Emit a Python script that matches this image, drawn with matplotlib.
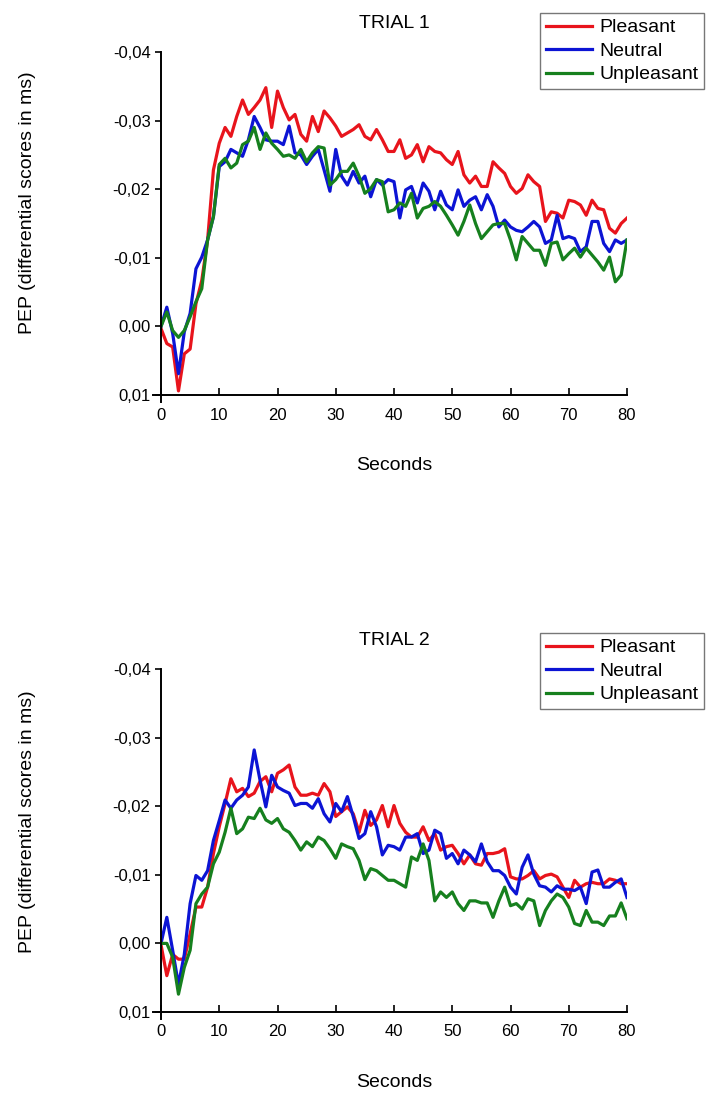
import numpy as np
import matplotlib
matplotlib.use("Agg")
import matplotlib.pyplot as plt

plt.rcParams['font.family'] = ['Liberation Sans', 'DejaVu Sans']

seconds = list(range(0, 81))

# trial 1 (PEP differential scores, negative = up)
t1_pleasant = [0.0003, 0.0025, 0.003, 0.0094, 0.004, 0.0033, -0.0033, -0.0067, -0.0126, -0.0228,
               -0.0267, -0.029, -0.0277, -0.0306, -0.033, -0.0309, -0.0319, -0.033, -0.0348, -0.029,
               -0.0343, -0.0319, -0.0301, -0.0309, -0.028, -0.027, -0.0306, -0.0284, -0.0314, -0.0304,
               -0.0292, -0.0277, -0.0282, -0.0287, -0.0294, -0.0277, -0.0272, -0.0287, -0.0272, -0.0255,
               -0.0255, -0.0272, -0.0245, -0.025, -0.0265, -0.024, -0.0262, -0.0255, -0.0253, -0.0243,
               -0.0236, -0.0255, -0.0221, -0.0209, -0.0219, -0.0204, -0.0204, -0.024, -0.0231, -0.0223,
               -0.0204, -0.0194, -0.0201, -0.0221, -0.0211, -0.0204, -0.0153, -0.0167, -0.0165, -0.0158,
               -0.0184, -0.0182, -0.0177, -0.0162, -0.0184, -0.0172, -0.017, -0.0143, -0.0136, -0.015,
               -0.0158]
t1_neutral = [0.0, -0.0028, 0.001, 0.0069, 0.0008, -0.0019, -0.0084, -0.0101, -0.0126, -0.016,
              -0.0233, -0.024, -0.0258, -0.0253, -0.0248, -0.0272, -0.0306, -0.029, -0.0272, -0.027,
              -0.027, -0.0265, -0.0292, -0.0253, -0.025, -0.0236, -0.0248, -0.0258, -0.0228, -0.0197,
              -0.0258, -0.0219, -0.0206, -0.0226, -0.0209, -0.0219, -0.0189, -0.0214, -0.0206, -0.0214,
              -0.0211, -0.0158, -0.0199, -0.0204, -0.018, -0.0209, -0.0197, -0.017, -0.0197, -0.0177,
              -0.017, -0.0199, -0.0175, -0.0184, -0.0189, -0.017, -0.0192, -0.0175, -0.0145, -0.0155,
              -0.0145, -0.014, -0.0138, -0.0145, -0.0153, -0.0145, -0.0121, -0.0126, -0.0162, -0.0128,
              -0.0131, -0.0128, -0.0109, -0.0116, -0.0153, -0.0153, -0.0121, -0.0109, -0.0126, -0.0121,
              -0.0126]
t1_unpleasant = [0.0, -0.0021, 0.0006, 0.0016, 0.0006, -0.0014, -0.0036, -0.0055, -0.0126, -0.016,
                 -0.0236, -0.0245, -0.0231, -0.0238, -0.0265, -0.027, -0.029, -0.0258, -0.0282, -0.0267,
                 -0.0258, -0.0248, -0.025, -0.0245, -0.0258, -0.024, -0.0253, -0.0262, -0.026, -0.0206,
                 -0.0214, -0.0226, -0.0226, -0.0238, -0.0219, -0.0194, -0.0201, -0.0214, -0.0211, -0.0167,
                 -0.017, -0.018, -0.0175, -0.0194, -0.0158, -0.0172, -0.0175, -0.0182, -0.0175, -0.0162,
                 -0.0148, -0.0133, -0.0153, -0.0177, -0.015, -0.0128, -0.0138, -0.0148, -0.015, -0.015,
                 -0.0126, -0.0097, -0.0131, -0.0121, -0.0111, -0.0111, -0.0089, -0.0121, -0.0123, -0.0097,
                 -0.0106, -0.0114, -0.0101, -0.0114, -0.0104, -0.0094, -0.0082, -0.0101, -0.0065, -0.0075,
                 -0.0126]

# trial 2
t2_pleasant = [0.0002, 0.0047, 0.0016, 0.0023, 0.0023, -0.0014, -0.0053, -0.0053, -0.0082, -0.0131,
               -0.017, -0.0204, -0.024, -0.0221, -0.0226, -0.0214, -0.0219, -0.0236, -0.0243, -0.0221,
               -0.0248, -0.0253, -0.026, -0.0228, -0.0216, -0.0216, -0.0219, -0.0216, -0.0233, -0.0221,
               -0.0185, -0.0192, -0.0199, -0.0189, -0.0162, -0.0194, -0.0172, -0.018, -0.0201, -0.017,
               -0.0201, -0.0175, -0.0162, -0.0155, -0.0155, -0.017, -0.015, -0.016, -0.0136, -0.0141,
               -0.0143, -0.0131, -0.0116, -0.0129, -0.0116, -0.0114, -0.0131, -0.0131, -0.0133, -0.0138,
               -0.0097, -0.0094, -0.0094, -0.0099, -0.0106, -0.0094, -0.0099, -0.0101, -0.0097, -0.0082,
               -0.0067, -0.0092, -0.0082, -0.0087, -0.0089, -0.0087, -0.0087, -0.0094, -0.0092, -0.0087,
               -0.0087]
t2_neutral = [0.0, -0.0038, 0.001, 0.006, 0.0016, -0.0058, -0.0099, -0.0092, -0.0106, -0.015,
              -0.0179, -0.0209, -0.0197, -0.0209, -0.0216, -0.0228, -0.0282, -0.0238, -0.0199, -0.0245,
              -0.0228, -0.0223, -0.0219, -0.0201, -0.0204, -0.0204, -0.0197, -0.0211, -0.0189, -0.0177,
              -0.0204, -0.0192, -0.0214, -0.0185, -0.0153, -0.016, -0.0192, -0.017, -0.0129, -0.0143,
              -0.0141, -0.0136, -0.0155, -0.0155, -0.016, -0.0131, -0.0136, -0.0165, -0.016, -0.0124,
              -0.0131, -0.0116, -0.0136, -0.0129, -0.0119, -0.0145, -0.0119, -0.0106, -0.0106, -0.0099,
              -0.0082, -0.0072, -0.0111, -0.0129, -0.0101, -0.0084, -0.0082, -0.0075, -0.0084, -0.0079,
              -0.0079, -0.0077, -0.0082, -0.0058, -0.0104, -0.0107, -0.0082, -0.0082, -0.0089, -0.0094,
              -0.0067]
t2_unpleasant = [0.0, 0.0, 0.002, 0.0074, 0.0035, 0.001, -0.0058, -0.0072, -0.0082, -0.0116,
                 -0.0133, -0.0162, -0.0197, -0.016, -0.0167, -0.0184, -0.0182, -0.0197, -0.018, -0.0175,
                 -0.0182, -0.0167, -0.0162, -0.015, -0.0136, -0.0148, -0.0141, -0.0155, -0.015, -0.0138,
                 -0.0124, -0.0145, -0.0141, -0.0138, -0.0121, -0.0093, -0.0109, -0.0106, -0.0099, -0.0092,
                 -0.0092, -0.0087, -0.0082, -0.0126, -0.0121, -0.0145, -0.0121, -0.0062, -0.0075, -0.0067,
                 -0.0075, -0.0058, -0.0048, -0.0062, -0.0062, -0.0059, -0.0059, -0.0038, -0.0062, -0.0082,
                 -0.0055, -0.0058, -0.005, -0.0065, -0.0062, -0.0026, -0.0048, -0.0062, -0.0072, -0.0067,
                 -0.0053, -0.0029, -0.0026, -0.0048, -0.0031, -0.0031, -0.0026, -0.004, -0.004, -0.0059,
                 -0.0036]

labels = ["Pleasant", "Neutral", "Unpleasant"]
colors = ["#e8141c", "#0c14d4", "#16801e"]
titles = ["TRIAL 1", "TRIAL 2"]
x_ticks = [0, 10, 20, 30, 40, 50, 60, 70, 80]
y_ticks = [-0.04, -0.03, -0.02, -0.01, 0.0, 0.01]
y_ticklabels = ["-0,04", "-0,03", "-0,02", "-0,01", "0,00", "0,01"]

trials = [[t1_pleasant, t1_neutral, t1_unpleasant],
          [t2_pleasant, t2_neutral, t2_unpleasant]]

W, H = 706, 1093
fig = plt.figure(figsize=(W / 100, H / 100), dpi=100)

# axes boxes in pixels: left, top, right, bottom
boxes = [(161, 52, 627, 395), (161, 669, 627, 1012)]
legend_tops = [13, 633]
ylabel_y = [0.56, 0.555]

for i, (box, series) in enumerate(zip(boxes, trials)):
    l, t, r, b = box
    ax = fig.add_axes([l / W, 1 - b / H, (r - l) / W, (b - t) / H])
    for s, lab, c in zip(series, labels, colors):
        ax.plot(seconds, s, color=c, lw=2.3, label=lab)
    ax.set_xlim(0, 80)
    ax.set_ylim(0.01, -0.04)
    ax.set_xticks(x_ticks)
    ax.set_yticks(y_ticks)
    ax.set_yticklabels(y_ticklabels)
    ax.spines['top'].set_visible(False)
    ax.spines['right'].set_visible(False)
    ax.spines['left'].set_linewidth(1.4)
    ax.spines['bottom'].set_linewidth(1.4)
    ax.spines['bottom'].set_bounds(-1.3, 80)
    ax.spines['left'].set_bounds(0.011, -0.04)
    ax.tick_params(axis='x', direction='in', length=5, width=1.2, labelsize=12, pad=9)
    ax.tick_params(axis='y', direction='out', length=4.5, width=1.2, labelsize=12, pad=3)
    ax.set_xlabel("Seconds", fontsize=14, labelpad=25)
    ax.set_ylabel("PEP (differential scores in ms)", fontsize=14)
    ax.yaxis.set_label_coords((36 - l) / (r - l), ylabel_y[i])
    ax.set_title(titles[i], fontsize=14, pad=17)
    ax.legend(loc='upper right', bbox_to_anchor=(704 / W, 1 - legend_tops[i] / H),
              bbox_transform=fig.transFigure, borderaxespad=0, fontsize=14,
              frameon=True, fancybox=False, edgecolor='#555555', handlelength=2.4,
              handletextpad=0.35, labelspacing=0.3, borderpad=0.3)

fig.savefig("out.png", dpi=100, facecolor='white')
